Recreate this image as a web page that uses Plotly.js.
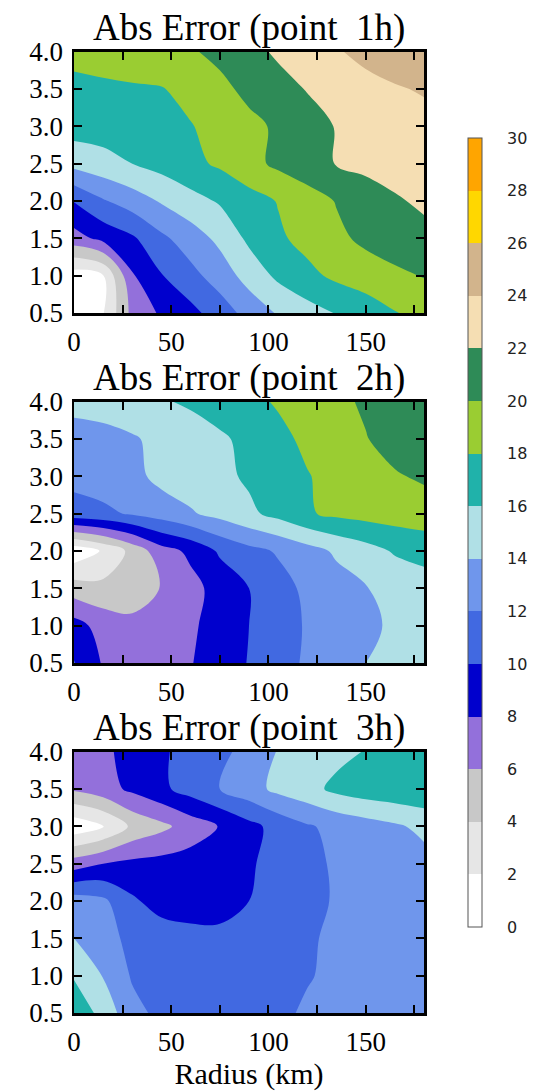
<!DOCTYPE html>
<html>
<head>
<meta charset="utf-8">
<script src="https://cdn.plot.ly/plotly-3.0.1.min.js"></script>
<style>
  html, body { margin: 0; padding: 0; background: #fff; }
  #chart { width: 539px; height: 1091px; }
</style>
</head>
<body>
<div id="chart"></div>
<script>
// grid: radius (km) across, height down the rows (0.5 .. 4.0)
const radius = [0, 15, 30, 45, 60, 75, 90, 105, 120, 135, 150, 165, 180];
const heights = [0.5, 1.0, 1.5, 2.0, 2.5, 3.0, 3.5, 4.0];

const err1h = [
  [1.0, 1.9, 6.6, 8.3, 9.4, 11.0, 12.7, 14.2, 15.2, 16.1, 16.8, 17.9, 18.6],
  [1.0, 1.9, 7.8, 9.9, 11.4, 12.9, 14.8, 16.4, 17.5, 18.4, 19.1, 19.6, 20.1],
  [7.2, 8.6, 9.7, 11.6, 13.0, 14.5, 16.4, 17.7, 18.6, 19.6, 20.4, 21.0, 21.5],
  [10.1, 11.8, 13.0, 14.2, 15.3, 16.2, 17.2, 18.1, 19.1, 20.1, 21.0, 21.8, 22.3],
  [14.6, 15.3, 16.0, 16.7, 17.5, 18.3, 19.4, 20.4, 21.2, 22.1, 22.5, 22.7, 22.9],
  [16.9, 16.9, 17.0, 17.3, 17.9, 18.7, 19.5, 20.3, 21.2, 22.1, 22.6, 23.0, 23.3],
  [17.65, 17.7, 17.8, 17.9, 18.6, 19.5, 20.5, 21.3, 22.1, 22.8, 23.3, 23.8, 24.2],
  [18.4, 18.7, 19.0, 19.4, 19.8, 20.5, 21.4, 22.3, 23.0, 23.8, 24.6, 25.2, 25.8],
];

const err2h = [
  [10.1, 7.8, 6.6, 6.8, 7.9, 9.0, 10.1, 11.2, 12.3, 13.2, 14.0, 14.4, 14.6],
  [8.8, 7.2, 6.6, 6.8, 7.7, 8.8, 10.0, 11.1, 12.2, 13.0, 13.6, 14.3, 14.6],
  [5.0, 4.6, 4.8, 6.1, 7.4, 8.7, 10.0, 11.3, 12.4, 13.2, 13.9, 14.6, 14.9],
  [0.6, 2.2, 4.6, 7.2, 8.4, 10.3, 11.4, 12.2, 13.2, 14.3, 15.2, 16.2, 16.8],
  [11.2, 11.6, 12.2, 12.9, 13.8, 14.6, 15.6, 16.6, 17.8, 18.4, 18.7, 18.9, 19.0],
  [12.6, 12.9, 13.4, 14.6, 15.0, 15.5, 16.3, 17.0, 17.9, 18.6, 19.2, 19.8, 20.3],
  [13.2, 13.4, 13.8, 14.5, 15.0, 15.7, 16.5, 17.5, 18.4, 19.2, 19.9, 20.8, 21.2],
  [14.6, 14.8, 15.2, 15.8, 16.3, 16.9, 17.5, 18.2, 18.9, 19.5, 20.3, 21.0, 21.5],
];

const err3h = [
  [17.5, 15.3, 12.6, 11.5, 11.2, 11.1, 11.3, 11.7, 12.2, 12.5, 12.7, 12.9, 13.0],
  [15.8, 13.9, 11.8, 11.2, 11.0, 11.0, 11.1, 11.4, 11.9, 12.3, 12.6, 12.8, 13.0],
  [14.0, 12.7, 11.5, 11.0, 10.8, 10.7, 10.8, 11.1, 11.8, 12.3, 12.6, 12.8, 13.0],
  [13.0, 12.4, 10.3, 9.2, 8.8, 8.9, 10.0, 10.6, 11.4, 12.2, 12.7, 13.0, 13.2],
  [7.0, 8.0, 8.5, 8.7, 8.9, 9.2, 9.8, 10.6, 11.4, 12.3, 12.8, 13.1, 13.3],
  [0.6, 1.8, 4.4, 5.5, 6.9, 8.1, 9.4, 10.7, 11.8, 12.5, 13.1, 13.7, 14.5],
  [6.3, 7.2, 8.4, 9.6, 10.8, 12.0, 13.2, 14.5, 15.3, 16.5, 17.1, 17.4, 17.6],
  [7.0, 7.6, 8.7, 9.8, 10.5, 11.4, 12.8, 14.1, 14.8, 15.4, 16.1, 16.8, 17.3],
];

const panelTitles = ['Abs Error (point \u00a01h)', 'Abs Error (point \u00a02h)', 'Abs Error (point \u00a03h)'];
const panels = [err1h, err2h, err3h];

// one flat colour per 2-unit band, 0 .. 30
const bandColors = [
  '#ffffff', '#e6e6e6', '#c8c8c8', '#9370db', '#0000cd',
  '#4169e1', '#6f96ec', '#b0e0e6', '#20b2aa', '#9acd32',
  '#2e8b57', '#f5deb3', '#d2b48c', '#ffd700', '#ffa500',
];
const scaleTicks = [0, 2, 4, 6, 8, 10, 12, 14, 16, 18, 20, 22, 24, 26, 28, 30];

const xTickVals = [0, 25, 50, 75, 100, 125, 150, 175];
const xTickText = ['0', '', '50', '', '100', '', '150', ''];
const yTickVals = [0.5, 1.0, 1.5, 2.0, 2.5, 3.0, 3.5, 4.0];
const yTickText = ['0.5', '1.0', '1.5', '2.0', '2.5', '3.0', '3.5', '4.0'];

const W = 539, H = 1091;
const colorscale = [];
bandColors.forEach((c, i) => {
  colorscale.push([i / bandColors.length, c]);
  colorscale.push([(i + 1) / bandColors.length, c]);
});

// panel frames in pixels (top, bottom)
const frames = [[51.7, 313], [401.7, 663], [751.7, 1013]];
const xDomain = [74 / W, 424 / W];
const barTop = 138, barBottom = 927, barLeft = 468, barRight = 482;

const serif = 'Liberation Serif, Times New Roman, serif';

const traces = panels.map((z, i) => ({
  type: 'contour',
  x: radius, y: heights, z: z,
  xaxis: i === 0 ? 'x' : 'x' + (i + 1),
  yaxis: i === 0 ? 'y' : 'y' + (i + 1),
  zmin: 0, zmax: 30,
  colorscale: colorscale,
  contours: { start: 0, end: 30, size: 2, coloring: 'fill', showlines: false },
  line: { width: 0 },
  hoverinfo: 'skip',
  showscale: i === 0,
  colorbar: {
    thickness: barRight - barLeft, thicknessmode: 'pixels',
    len: barBottom - barTop, lenmode: 'pixels',
    x: barLeft / W, xanchor: 'left', xpad: 0,
    y: 1 - barTop / H, yanchor: 'top', ypad: 0,
    showticklabels: false, ticks: '',
    outlinewidth: 1, outlinecolor: '#555',
  },
}));

// empty trace that carries the axis used for the colour-bar labels
traces.push({ type: 'scatter', x: [], y: [], xaxis: 'x4', yaxis: 'y4', hoverinfo: 'skip', showlegend: false });

const layout = {
  width: W, height: H,
  margin: { l: 0, r: 0, t: 0, b: 0 },
  paper_bgcolor: '#fff', plot_bgcolor: 'rgba(0,0,0,0)',
  showlegend: false,
  annotations: [],
  xaxis4: { domain: [barLeft / W, barRight / W], anchor: 'y4', range: [0, 1], visible: false },
  yaxis4: {
    domain: [1 - barBottom / H, 1 - barTop / H], anchor: 'x4', side: 'right',
    range: [0, 30], tickmode: 'array', tickvals: scaleTicks,
    ticks: '', showline: false, showgrid: false, zeroline: false, automargin: false,
    ticklabelstandoff: 24,
    tickfont: { family: 'DejaVu Sans', size: 16, color: '#222' },
  },
};

frames.forEach((f, i) => {
  const sx = i === 0 ? '' : String(i + 1);
  layout['xaxis' + sx] = {
    domain: xDomain, anchor: 'y' + sx, range: [0, 180],
    tickmode: 'array', tickvals: xTickVals, ticktext: xTickText,
    ticks: 'inside', ticklen: 8, tickwidth: 2, tickcolor: '#000',
    showline: true, linewidth: 2.5, linecolor: '#000', mirror: 'ticks',
    showgrid: false, zeroline: false, automargin: false,
    ticklabelstandoff: 3,
    tickfont: { family: serif, size: 27, color: '#000' },
  };
  layout['yaxis' + sx] = {
    domain: [1 - f[1] / H, 1 - f[0] / H], anchor: 'x' + sx, range: [0.5, 4.0],
    tickmode: 'array', tickvals: yTickVals, ticktext: yTickText,
    ticks: 'inside', ticklen: 8, tickwidth: 2, tickcolor: '#000',
    showline: true, linewidth: 2.5, linecolor: '#000', mirror: 'ticks',
    showgrid: false, zeroline: false, automargin: false,
    ticklabelstandoff: 3,
    tickfont: { family: serif, size: 27, color: '#000' },
  };
  layout.annotations.push({
    text: panelTitles[i],
    xref: 'x' + sx + ' domain', yref: 'y' + sx + ' domain',
    x: 0.5, y: 1, xanchor: 'center', yanchor: 'bottom',
    yshift: 1, showarrow: false,
    font: { family: serif, size: 37, color: '#000' },
  });
});

layout.xaxis3.title = { text: 'Radius (km)', font: { family: serif, size: 30, color: '#000' }, standoff: 2 };

Plotly.newPlot('chart', traces, layout, { displayModeBar: false, staticPlot: true });
</script>
</body>
</html>
